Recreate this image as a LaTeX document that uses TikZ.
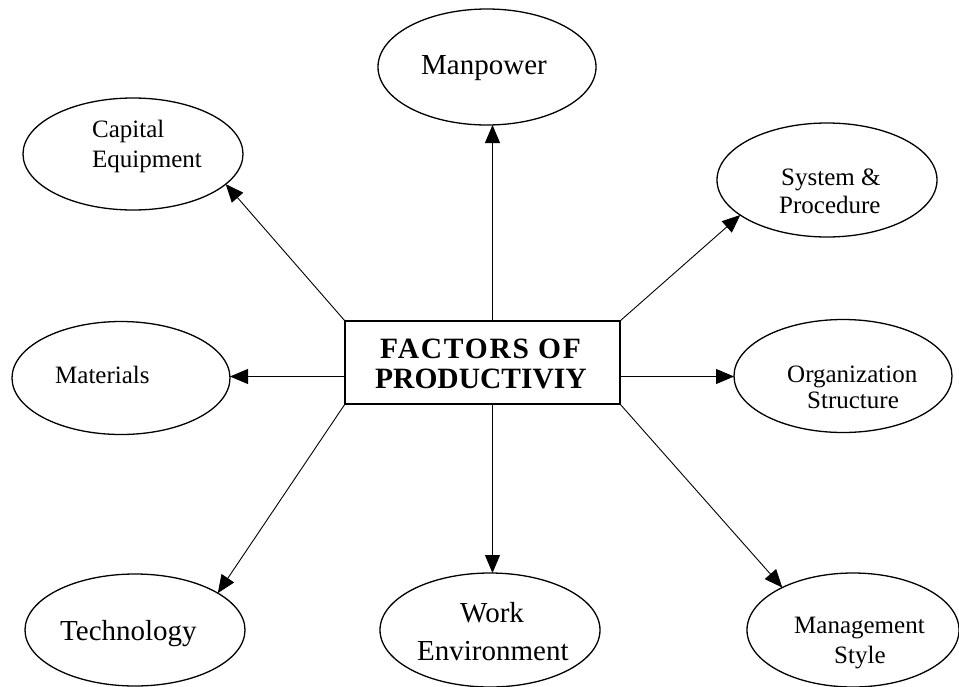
\documentclass[tikz,border=0pt]{standalone}
\usepackage{fontspec}
\setmainfont{Liberation Serif}
\usetikzlibrary{arrows.meta,shapes.geometric}
\begin{document}
\begin{tikzpicture}[x=1pt,y=-1pt,
  oval/.style={draw,ellipse,line width=1.3pt,inner sep=0pt,outer sep=0pt},
  mainbox/.style={draw,rectangle,line width=1.8pt,inner sep=0pt,outer sep=0pt,minimum width=275pt,minimum height=83pt},
  arr/.style={line width=0.9pt,-{Triangle[length=18pt,width=15pt]}},
  small/.style={inner sep=0pt,anchor=base west,font=\fontsize{25}{30}\selectfont},
  big/.style={inner sep=0pt,anchor=base west,font=\fontsize{29}{34}\selectfont},
  boxtxt/.style={inner sep=0pt,anchor=base west,font=\fontsize{29.5}{30}\selectfont\bfseries}]
\useasboundingbox (0,0) rectangle (959,686);
% central box
\node[mainbox] (box) at (482.5,362.5) {};
\node[boxtxt] (t1) at (380,358) {\addfontfeature{LetterSpace=6}FACTORS OF};
\node[boxtxt] (t2) at (375,388) {PRODUCTIVIY};
% ellipses
\node[oval,minimum width=218pt,minimum height=116pt] (man) at (487,67) {};
\node[oval,minimum width=220pt,minimum height=112pt] (cap) at (133,154) {};
\node[oval,minimum width=220pt,minimum height=114pt] (sys) at (827,180) {};
\node[oval,minimum width=218pt,minimum height=113pt] (mat) at (121,378) {};
\node[oval,minimum width=218pt,minimum height=113pt] (org) at (843,376) {};
\node[oval,minimum width=220pt,minimum height=112pt] (tec) at (135,630) {};
\node[oval,minimum width=220pt,minimum height=114pt] (work) at (490,630) {};
\node[oval,minimum width=212pt,minimum height=114pt] (mgmt) at (853,630) {};
% labels
\node[big] (lman) at (421,74) {Manpower};
\node[small] (lcap1) at (92,137) {Capital};
\node[small] (lcap2) at (92,167) {Equipment};
\node[small] (lsys1) at (781,185) {System \&};
\node[small] (lsys2) at (779,213) {Procedure};
\node[small] (lmat) at (55,383) {Materials};
\node[small] (lorg1) at (787,382) {Organization};
\node[small] (lorg2) at (807,408) {Structure};
\node[big] (ltec) at (60,640) {Technology};
\node[big] (lwork1) at (460,622) {Work};
\node[big] (lwork2) at (417,660) {Environment};
\node[small] (lmg1) at (794,633) {Management};
\node[small] (lmg2) at (834,663) {Style};
% connector anchors
\coordinate (mtop) at ([xshift=10pt]box.north);
\coordinate (wbot) at ([xshift=10pt]box.south);
\coordinate (lft) at ([yshift=-14pt]box.west);
\coordinate (rgt) at ([yshift=-14pt]box.east);
% connectors
\draw[arr] (mtop) -- (mtop |- man.south);
\draw[arr] (box.north west) -- (cap.-18);
\draw[arr] (box.north east) -- (sys.202);
\draw[arr] (lft) -- (lft -| mat.east);
\draw[arr] (rgt) -- (rgt -| org.west);
\draw[arr] (box.south west) -- (tec.24);
\draw[arr] (wbot) -- (wbot |- work.north);
\draw[arr] (box.south east) -- (mgmt.149);
\end{tikzpicture}
\end{document}
